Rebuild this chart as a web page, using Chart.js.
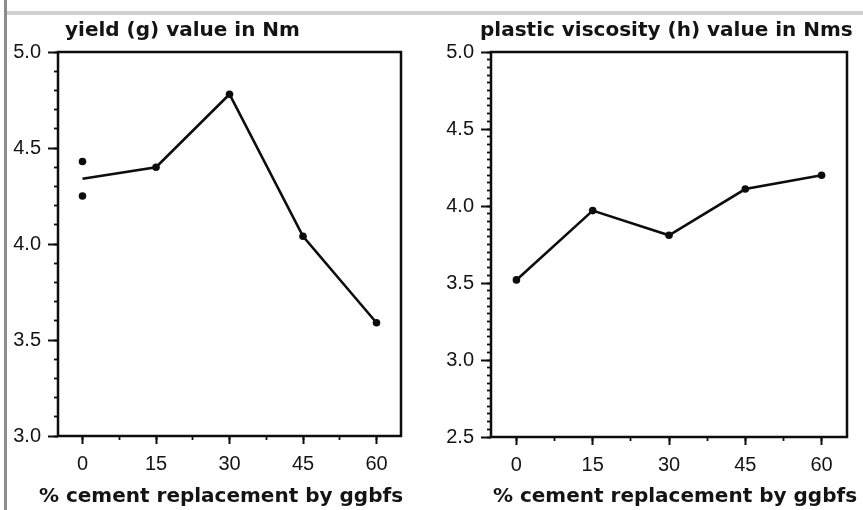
<!DOCTYPE html>
<html>
<head>
<meta charset="utf-8">
<script src="https://cdn.jsdelivr.net/npm/chart.js@4.4.1/dist/chart.umd.min.js"></script>
<style>
  html, body { margin: 0; padding: 0; background: #fff; }
  #page { position: relative; width: 863px; height: 510px; overflow: hidden; background: #fff; }
  .panel { position: absolute; top: 0; height: 510px; }
  #left-wrap { left: 0; width: 430px; }
  #right-wrap { left: 430px; width: 433px; }
  /* grey edge of the scanned page */
  #edge-v { position: absolute; left: 4px; top: 0; width: 3px; height: 510px; background: #8c8c8c; }
  #edge-h { position: absolute; left: 7px; top: 11px; width: 856px; height: 4px; background: #d0d0d0; }
</style>
</head>
<body>
<div id="page">
  <div id="left-wrap" class="panel"><canvas id="yieldChart"></canvas></div>
  <div id="right-wrap" class="panel"><canvas id="viscosityChart"></canvas></div>
  <div id="edge-v"></div>
  <div id="edge-h"></div>
</div>
<script>
// % cement replacement by ggbfs (x of both panels)
const replacement = [0, 15, 30, 45, 60];

// yield (g) value in Nm - line runs through the mean of the two 0% mixes
const yieldValues = [4.34, 4.40, 4.78, 4.04, 3.59];
const yieldAt0 = [4.43, 4.25];

// plastic viscosity (h) value in Nms
const viscosityValues = [3.52, 3.97, 3.81, 4.11, 4.20];

// tick labels
const xTicks = [0, 15, 30, 45, 60];
const yieldTicks = [3.0, 3.5, 4.0, 4.5, 5.0];
const viscosityTicks = [2.5, 3.0, 3.5, 4.0, 4.5, 5.0];

const FONT = "'DejaVu Sans', sans-serif";
const TICK_FONT = "'Liberation Sans', Arial, sans-serif";
const INK = "#0d0d0d";
const TEXT = "#141414";

// box round the plot, panel title and x axis title
const panelText = {
  id: "panelText",
  afterDraw(chart, args, opts) {
    const { ctx, chartArea: a } = chart;
    ctx.save();
    ctx.strokeStyle = INK;
    ctx.lineWidth = 2.5;
    ctx.strokeRect(a.left, a.top, a.right - a.left, a.bottom - a.top);
    ctx.fillStyle = TEXT;
    ctx.font = "bold 20px " + FONT;
    ctx.textBaseline = "alphabetic";
    ctx.textAlign = "left";
    ctx.fillText(opts.title, a.left + opts.titleDx, 36);
    ctx.textAlign = "center";
    ctx.fillText(opts.xTitle, opts.xTitleX, 502);
    ctx.restore();
  },
};

function buildScales(yMin, yMax, yTicks, yMinorStep, yWidth, xHeight) {
  const tickFont = { family: TICK_FONT, size: 20 };
  return {
    x: {
      type: "linear", position: "bottom", min: -5, max: 65, weight: 1,
      afterBuildTicks: (s) => { s.ticks = xTicks.map((v) => ({ value: v })); },
      afterFit: (s) => { s.height = xHeight; },
      grid: { drawOnChartArea: false, tickLength: 8, tickColor: INK, tickWidth: 2 },
      border: { display: false },
      ticks: { font: tickFont, color: TEXT, padding: 8, callback: (v) => String(v) },
    },
    xMinor: {
      type: "linear", position: "bottom", min: -5, max: 65, weight: 0,
      afterFit: (s) => { s.height = 0; },
      grid: { drawOnChartArea: false, tickLength: 4, tickColor: INK, tickWidth: 1.8 },
      border: { display: false },
      ticks: { display: false, stepSize: 7.5, includeBounds: false, font: { size: 2 } },
    },
    y: {
      type: "linear", position: "left", min: yMin, max: yMax, weight: 1,
      afterBuildTicks: (s) => { s.ticks = yTicks.map((v) => ({ value: v })); },
      afterFit: (s) => { s.width = yWidth; },
      grid: { drawOnChartArea: false, tickLength: 10, tickColor: INK, tickWidth: 2 },
      border: { display: false },
      ticks: { font: tickFont, color: TEXT, padding: 7, callback: (v) => v.toFixed(1) },
    },
    yMinor: {
      type: "linear", position: "left", min: yMin, max: yMax, weight: 0,
      afterFit: (s) => { s.width = 0; },
      grid: { drawOnChartArea: false, tickLength: 4, tickColor: INK, tickWidth: 1.8 },
      border: { display: false },
      ticks: { display: false, stepSize: yMinorStep, font: { size: 2 } },
    },
  };
}

function lineSet(values, hideFirstPoint) {
  return {
    data: replacement.map((x, i) => ({ x: x, y: values[i] })),
    showLine: true,
    borderColor: INK,
    borderWidth: 2.6,
    tension: 0,
    pointRadius: (c) => (hideFirstPoint && c.dataIndex === 0 ? 0 : 3.8),
    pointBackgroundColor: INK,
    pointBorderWidth: 0,
    xAxisID: "x",
    yAxisID: "y",
  };
}

const commonPlugins = { legend: { display: false }, tooltip: { enabled: false } };

new Chart(document.getElementById("yieldChart"), {
  type: "scatter",
  data: {
    datasets: [
      lineSet(yieldValues, true),
      {
        data: yieldAt0.map((y) => ({ x: replacement[0], y: y })),
        showLine: false,
        pointRadius: 3.8,
        pointBackgroundColor: INK,
        pointBorderWidth: 0,
        xAxisID: "x",
        yAxisID: "y",
      },
    ],
  },
  options: {
    responsive: true,
    maintainAspectRatio: false,
    animation: false,
    layout: { padding: { top: 52, left: 0, right: 29, bottom: 0 } },
    scales: buildScales(3.0, 5.0, yieldTicks, 0.1, 58, 74),
    plugins: Object.assign({}, commonPlugins, {
      panelText: { title: "yield (g) value in Nm", titleDx: 7, xTitle: "% cement replacement by ggbfs", xTitleX: 221 },
    }),
  },
  plugins: [panelText],
});

new Chart(document.getElementById("viscosityChart"), {
  type: "scatter",
  data: { datasets: [lineSet(viscosityValues, false)] },
  options: {
    responsive: true,
    maintainAspectRatio: false,
    animation: false,
    layout: { padding: { top: 52, left: 0, right: 16, bottom: 0 } },
    scales: buildScales(2.5, 5.0, viscosityTicks, 0.05, 61, 73),
    plugins: Object.assign({}, commonPlugins, {
      panelText: { title: "plastic viscosity (h) value in Nms", titleDx: -11, xTitle: "% cement replacement by ggbfs", xTitleX: 245 },
    }),
  },
  plugins: [panelText],
});
</script>
</body>
</html>
